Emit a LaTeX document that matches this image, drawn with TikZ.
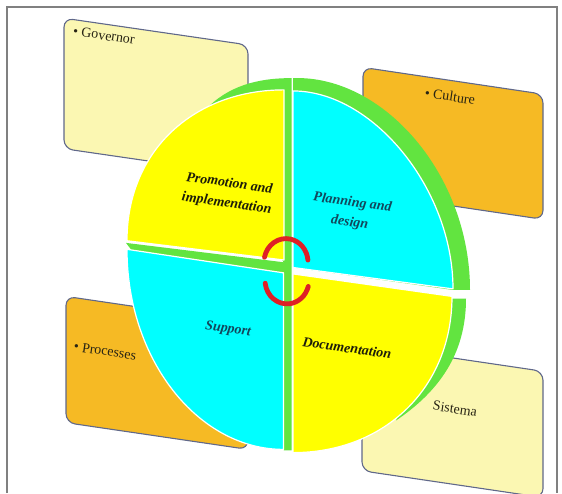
\documentclass[tikz,border=0pt]{standalone}
\usepackage{fontspec}
\setmainfont{Liberation Serif}
\definecolor{paleyellow}{RGB}{251,247,178}
\definecolor{boxorange}{RGB}{246,186,36}
\definecolor{boxedge}{RGB}{96,104,138}
\definecolor{rimgreen}{RGB}{98,228,64}
\definecolor{faceyellow}{RGB}{255,255,0}
\definecolor{facecyan}{RGB}{0,255,255}
\definecolor{arcred}{RGB}{222,32,38}
\definecolor{framegray}{RGB}{128,128,128}
\definecolor{boxink}{RGB}{40,36,20}
\definecolor{darkink}{RGB}{30,30,10}
\definecolor{tealink}{RGB}{18,72,92}
\begin{document}
\begin{tikzpicture}[x=1pt,y=-1.07pt,
  boxpanel/.style={draw=boxedge, line width=1.1pt, rounded corners=9pt},
  boxtext/.style={font=\fontsize{14}{16}\selectfont, text=boxink, rotate=-8.5, inner sep=0pt},
  quadtext/.style={font=\fontsize{14}{20}\selectfont\bfseries\itshape, align=center, rotate=-8, inner sep=0pt},
  quadface/.style={draw=white, line width=1.2pt, line join=round},
  turnarc/.style={draw=arcred, line width=4.8pt, line cap=round}]
\useasboundingbox (0,0) rectangle (562,460.75);

% outer frame (open at the bottom)
\draw[framegray, line width=1.4pt] (7,460.75) -- (7,6.5) -- (557,6.5) -- (557,460.75);

% the four side panels
\path[boxpanel, fill=paleyellow] (64,17) -- (248,42) -- (248,164) -- (64,139) -- cycle;
\path[boxpanel, fill=boxorange] (363,63) -- (543,88) -- (543,205) -- (363,180) -- cycle;
\path[boxpanel, fill=boxorange] (66,277) -- (248,302) -- (248,420) -- (66,395) -- cycle;
\path[boxpanel, fill=paleyellow] (362,322) -- (543,347) -- (543,465) -- (362,440) -- cycle;

\node[boxtext] (gov) at (104,33) {\textbullet\ Governor};
\node[boxtext] (cult) at (450,90) {\textbullet\ Culture};
\node[boxtext] (proc) at (105,328) {\textbullet\ Processes};
\node[boxtext] (sist) at (455,382) {Sistema};

% green sides of the disc pieces
\fill[rimgreen] (205,103) .. controls (228,80) and (258,73) .. (291.5,73) -- (291.5,246) -- (284,246) -- cycle;
\fill[rimgreen] (293,250) -- (293,73) .. controls (383,70) and (470,163) .. (470,271) -- (453,271) -- cycle;
\fill[rimgreen] (451,279) -- (466,279) .. controls (466,325) and (445,362) .. (396,393) -- cycle;
\fill[rimgreen] (126,227) -- (291.5,246) -- (291.5,421) -- (284,421) -- cycle;

% front faces of the four pieces
\path[quadface, fill=faceyellow] (284,243) -- (127,225) .. controls (127,140) and (195,84) .. (284,84) -- cycle;
\path[quadface, fill=facecyan] (293,250) -- (293,85) .. controls (373,85) and (453,177) .. (453,270) -- cycle;
\path[quadface, fill=facecyan] (283.5,255) -- (127,233) .. controls (127,336) and (198,420) .. (283.5,420) -- cycle;
\path[quadface, fill=faceyellow] (293,256) -- (452,277) .. controls (452,362) and (385,423) .. (293,423) -- cycle;

% piece labels
\node[quadtext, text=darkink] (promo) at (228,181) {Promotion and\\implementation};
\node[quadtext, text=tealink] (plan) at (351,199) {Planning and\\design};
\node[quadtext, text=tealink] (supp) at (228,308) {Support};
\node[quadtext, text=darkink] (docu) at (347,325) {Documentation};

% circular arrows in the middle
\draw[turnarc] (286,245) ++(192:22) arc[start angle=192, end angle=355, radius=22];
\draw[turnarc] (287,262) ++(173:22) arc[start angle=173, end angle=15, radius=22];
\end{tikzpicture}
\end{document}
